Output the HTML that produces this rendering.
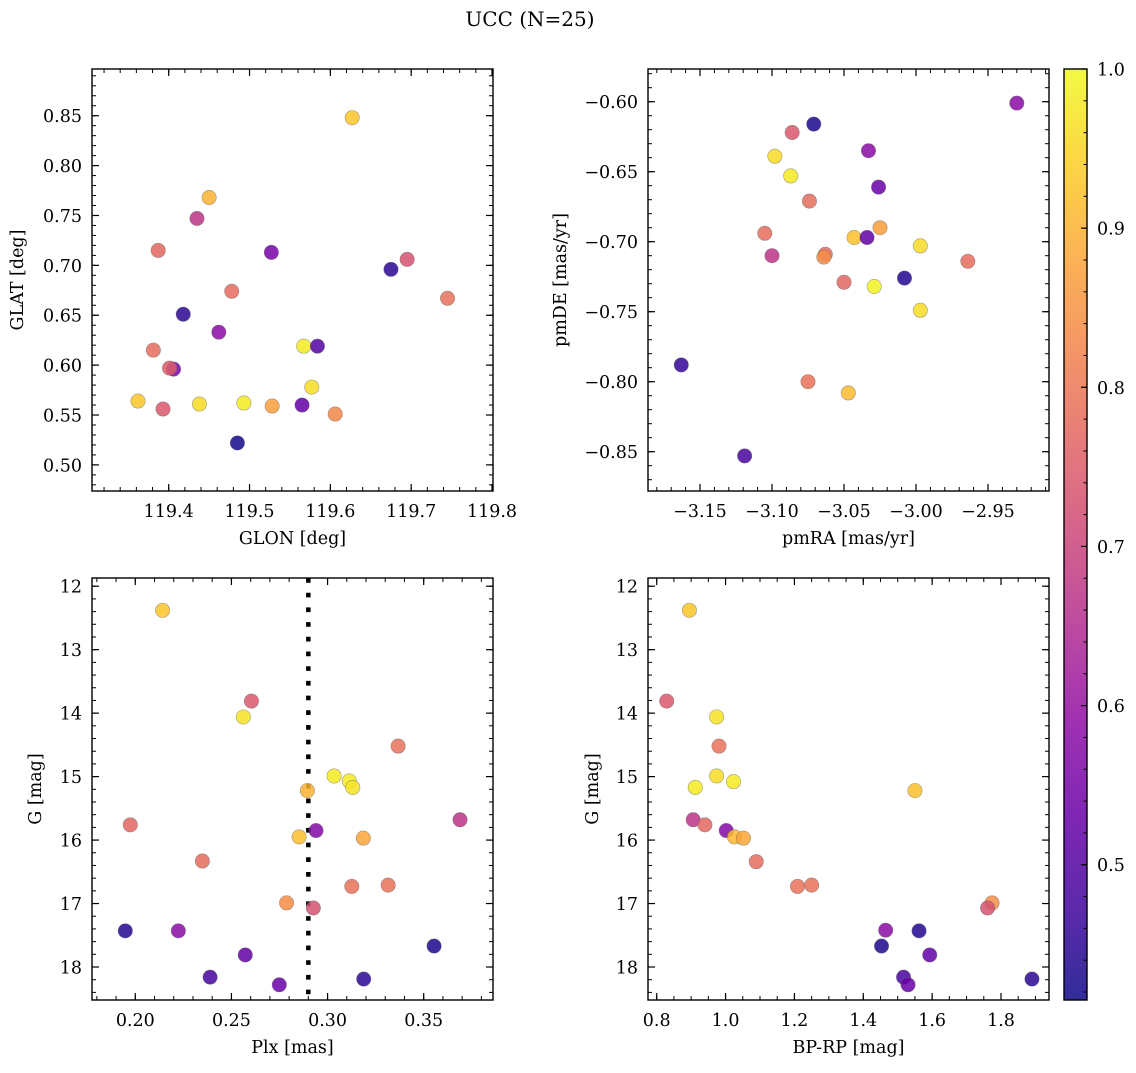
<!DOCTYPE html>
<html><head><meta charset="utf-8"><style>
html,body{margin:0;padding:0;background:#fff;}
svg text{font-family:"DejaVu Serif","Liberation Serif",serif;fill:#000;}
</style></head><body>
<svg id="fig" width="1136" height="1068" viewBox="0 0 1136 1068" xmlns="http://www.w3.org/2000/svg">
<defs>
<linearGradient id="cbgrad" x1="0" y1="1" x2="0" y2="0">
<stop offset="0" stop-color="#0d0887"/><stop offset="0.1" stop-color="#41049d"/><stop offset="0.2" stop-color="#6a00a8"/><stop offset="0.3" stop-color="#8f0da4"/><stop offset="0.4" stop-color="#b12a90"/><stop offset="0.5" stop-color="#cc4778"/><stop offset="0.6" stop-color="#e16462"/><stop offset="0.7" stop-color="#f2844b"/><stop offset="0.8" stop-color="#fca636"/><stop offset="0.9" stop-color="#fcce25"/><stop offset="1" stop-color="#f0f921"/>
</linearGradient>
</defs>
<text x="530" y="26" font-size="20" text-anchor="middle">UCC (N=25)</text>
</svg>
<script>
// ---- data: panel 1 (GLON/GLAT)
const glon = [119.627,119.450,119.435,119.387,119.527,119.675,119.695,119.478,119.745,119.418,119.462,119.567,119.584,119.381,119.406,119.401,119.577,119.362,119.393,119.438,119.493,119.528,119.565,119.606,119.485];
const glat = [0.848,0.768,0.747,0.715,0.713,0.696,0.706,0.674,0.667,0.651,0.633,0.619,0.619,0.615,0.596,0.597,0.578,0.564,0.556,0.561,0.562,0.559,0.560,0.551,0.522];
const prob1 = [0.93,0.90,0.67,0.77,0.55,0.45,0.73,0.78,0.79,0.45,0.58,0.98,0.50,0.78,0.55,0.75,0.96,0.93,0.74,0.96,0.98,0.87,0.52,0.83,0.42];
// ---- data: panel 2 (pmRA/pmDE)
const pmra = [-2.930,-3.071,-3.086,-3.033,-3.098,-3.087,-3.026,-3.074,-3.105,-3.025,-3.043,-3.034,-2.997,-3.100,-3.063,-3.064,-2.964,-3.008,-3.050,-3.029,-2.997,-3.163,-3.075,-3.047,-3.119];
const pmde = [-0.601,-0.616,-0.622,-0.635,-0.639,-0.653,-0.661,-0.671,-0.694,-0.690,-0.697,-0.697,-0.703,-0.710,-0.709,-0.711,-0.714,-0.726,-0.729,-0.732,-0.749,-0.788,-0.800,-0.808,-0.853];
const prob2 = [0.58,0.43,0.74,0.58,0.96,0.98,0.53,0.78,0.78,0.87,0.92,0.52,0.96,0.67,0.78,0.84,0.78,0.44,0.77,0.99,0.96,0.46,0.79,0.91,0.48];
// ---- data: panel 3 (Plx/G)
const plx = [0.2142,0.2604,0.2562,0.3367,0.3034,0.3113,0.3131,0.2895,0.3689,0.1974,0.2940,0.2852,0.3186,0.2349,0.3315,0.3126,0.2787,0.2926,0.1948,0.2224,0.3554,0.2572,0.2389,0.3188,0.2749];
const gmag3 = [12.38,13.81,14.06,14.52,14.99,15.07,15.17,15.22,15.68,15.76,15.85,15.95,15.97,16.33,16.71,16.73,16.99,17.07,17.43,17.43,17.67,17.81,18.16,18.19,18.28];
const prob3 = [0.93,0.74,0.97,0.79,0.98,0.98,0.97,0.90,0.67,0.77,0.57,0.92,0.88,0.78,0.79,0.79,0.84,0.73,0.44,0.58,0.43,0.52,0.48,0.45,0.53];
const plxMedian = [0.29];
// ---- data: panel 4 (BP-RP/G)
const bprp = [0.895,0.829,0.974,0.981,0.974,1.023,0.912,1.550,0.906,0.940,1.002,1.026,1.052,1.089,1.209,1.250,1.774,1.761,1.465,1.562,1.453,1.593,1.517,1.890,1.530];
const gmag4 = [12.38,13.81,14.06,14.52,14.99,15.08,15.17,15.22,15.68,15.76,15.85,15.95,15.97,16.34,16.73,16.71,16.99,17.07,17.42,17.43,17.67,17.81,18.16,18.19,18.28];
const prob4 = [0.93,0.74,0.97,0.79,0.96,0.98,0.98,0.92,0.67,0.77,0.57,0.91,0.88,0.78,0.79,0.79,0.84,0.73,0.58,0.44,0.43,0.52,0.48,0.45,0.53];
// ---- ticks
const ticks1x = [119.4,119.5,119.6,119.7,119.8];
const ticks1y = [0.50,0.55,0.60,0.65,0.70,0.75,0.80,0.85];
const ticks2x = [-3.15,-3.10,-3.05,-3.00,-2.95];
const ticks2y = [-0.85,-0.80,-0.75,-0.70,-0.65,-0.60];
const ticks3x = [0.20,0.25,0.30,0.35];
const ticksG = [12,13,14,15,16,17,18];
const ticks4x = [0.8,1.0,1.2,1.4,1.6,1.8];
const ticksCb = [0.5,0.6,0.7,0.8,0.9,1.0];
const cbRange = [0.415,1.0];

const NS='http://www.w3.org/2000/svg';
const svg=document.getElementById('fig');
function mk(tag,attrs,parent){const e=document.createElementNS(NS,tag);for(const k in attrs)e.setAttribute(k,attrs[k]);(parent||svg).appendChild(e);return e;}
const stops=[[0,[13,8,135]],[0.1,[65,4,157]],[0.2,[106,0,168]],[0.3,[143,13,164]],[0.4,[177,42,144]],[0.5,[204,71,120]],[0.6,[225,100,98]],[0.7,[242,132,75]],[0.8,[252,166,54]],[0.9,[252,206,37]],[1,[240,249,33]]];
function plasma(v){let t=(v-cbRange[0])/(cbRange[1]-cbRange[0]);t=Math.max(0,Math.min(1,t));
 for(let i=0;i<stops.length-1;i++){const a=stops[i],b=stops[i+1];if(t<=b[0]){const f=(t-a[0])/(b[0]-a[0]);const c=a[1].map((x,j)=>Math.round(x+(b[1][j]-x)*f));return 'rgb('+c.join(',')+')';}}return 'rgb(240,249,33)';}
function fmt(v,d){let s=v.toFixed(d);return s.replace('-','\u2212');}

function panel(p){
 const g=mk('g',{});
 
 
 const sx=v=>p.x0+(v-p.xa)*(p.x1-p.x0)/(p.xb-p.xa);
 const sy=v=>p.y0+(v-p.ya)*(p.y1-p.y0)/(p.yb-p.ya);
 const L=p.L,R=p.R,T=p.T,B=p.B;
 for(let k=-200;k<=200;k++){const v=p.xTicks[0]+k*p.xMinor;const px=sx(v);if(px<L+0.5||px>R-0.5)continue;
  const mt=mk('line',{x1:px,y1:B,x2:px,y2:B-4,stroke:'#000','stroke-width':1},g);
  
  const mt2=mk('line',{x1:px,y1:T,x2:px,y2:T+4,stroke:'#000','stroke-width':1},g);
  }
 for(let k=-200;k<=200;k++){const v=p.yTicks[0]+k*p.yMinor;const py=sy(v);if(py<T+0.5||py>B-0.5)continue;
  const mt=mk('line',{x1:L,y1:py,x2:L+4,y2:py,stroke:'#000','stroke-width':1},g);
  
  const mt2=mk('line',{x1:R,y1:py,x2:R-4,y2:py,stroke:'#000','stroke-width':1},g);
  }
 p.xTicks.forEach(v=>{const px=sx(v);
  const t1=mk('line',{x1:px,y1:B,x2:px,y2:B-7,stroke:'#000','stroke-width':1.2},g);
  
  const t2=mk('line',{x1:px,y1:T,x2:px,y2:T+7,stroke:'#000','stroke-width':1.2},g);
  
  const tx=mk('text',{x:px,y:B+26,'font-size':17.5,'text-anchor':'middle'},g);tx.textContent=fmt(v,p.xd);
  });
 p.yTicks.forEach(v=>{const py=sy(v);
  const t1=mk('line',{x1:L,y1:py,x2:L+7,y2:py,stroke:'#000','stroke-width':1.2},g);
  
  const t2=mk('line',{x1:R,y1:py,x2:R-7,y2:py,stroke:'#000','stroke-width':1.2},g);
  
  const tx=mk('text',{x:L-10,y:py+6.5,'font-size':17.5,'text-anchor':'end'},g);tx.textContent=fmt(v,p.yd);
  });
 if(p.vline){p.vline.forEach(v=>{const l=mk('line',{x1:sx(v),y1:T,x2:sx(v),y2:B,stroke:'#000','stroke-width':4.5,'stroke-dasharray':'4.7 10'},g);
  });}
 for(let i=0;i<p.xs.length;i++){
  const c=mk('circle',{cx:sx(p.xs[i]),cy:sy(p.ys[i]),r:7.2,fill:plasma(p.cs[i]),'fill-opacity':0.85,stroke:'#666','stroke-opacity':0.6,'stroke-width':0.6},g);
  
  }
 const fr=mk('rect',{x:L,y:T,width:R-L,height:B-T,fill:'none',stroke:'#000','stroke-width':1.4},g);
 
 const xl=mk('text',{x:(L+R)/2,y:B+53,'font-size':17.5,'text-anchor':'middle'},g);xl.textContent=p.xlabel;
 
 const yl=mk('text',{x:p.ylx,y:(T+B)/2,'font-size':17.5,'text-anchor':'middle',transform:'rotate(-90 '+p.ylx+' '+((T+B)/2)+')'},g);yl.textContent=p.ylabel;
 
}

panel({name:'glon-glat-panel',L:92,R:493,T:69,B:491,xa:119.4,xb:119.8,x0:168.7,x1:492,ya:0.85,yb:0.50,y0:115.7,y1:464.9,
 xTicks:ticks1x,yTicks:ticks1y,xMinor:0.02,yMinor:0.01,xd:1,yd:2,xs:glon,ys:glat,cs:prob1,xlabel:'GLON [deg]',ylabel:'GLAT [deg]',ylx:23});
panel({name:'pm-panel',L:648,R:1049,T:69,B:491,xa:-3.15,xb:-2.95,x0:700,x1:988,ya:-0.60,yb:-0.85,y0:101.7,y1:451.7,
 xTicks:ticks2x,yTicks:ticks2y,xMinor:0.01,yMinor:0.01,xd:2,yd:2,xs:pmra,ys:pmde,cs:prob2,xlabel:'pmRA [mas/yr]',ylabel:'pmDE [mas/yr]',ylx:566});
panel({name:'plx-g-panel',L:92,R:493,T:578,B:1000,xa:0.20,xb:0.35,x0:135.3,x1:423.7,ya:12,yb:18,y0:586.2,y1:967,
 xTicks:ticks3x,yTicks:ticksG,xMinor:0.01,yMinor:0.2,xd:2,yd:0,xs:plx,ys:gmag3,cs:prob3,xlabel:'Plx [mas]',ylabel:'G [mag]',ylx:41,vline:plxMedian});
panel({name:'cmd-panel',L:648,R:1049,T:578,B:1000,xa:0.8,xb:1.8,x0:656.7,x1:1001,ya:12,yb:18,y0:586.2,y1:967,
 xTicks:ticks4x,yTicks:ticksG,xMinor:0.05,yMinor:0.2,xd:1,yd:0,xs:bprp,ys:gmag4,cs:prob4,xlabel:'BP-RP [mag]',ylabel:'G [mag]',ylx:598});

// colorbar
const cbT=69,cbB=1000,cbL=1064,cbR=1087;
const cy=v=>cbB-(v-cbRange[0])/(cbRange[1]-cbRange[0])*(cbB-cbT);
const cbr=mk('rect',{x:cbL,y:cbT,width:cbR-cbL,height:cbB-cbT,fill:'url(#cbgrad)','fill-opacity':0.85});


for(let v=0.42;v<1.0;v+=0.02){const py=cy(v);
 const m=mk('line',{x1:cbR,y1:py,x2:cbR-3.5,y2:py,stroke:'#000','stroke-width':1});
 
 }
ticksCb.forEach(v=>{const py=cy(v);
 const t=mk('line',{x1:cbR,y1:py,x2:cbR-6,y2:py,stroke:'#000','stroke-width':1.2});
 
 
 const tx=mk('text',{x:cbR+10,y:py+6.5,'font-size':17.5});tx.textContent=v.toFixed(1);
 
 });
const cbf=mk('rect',{x:cbL,y:cbT,width:cbR-cbL,height:cbB-cbT,fill:'none',stroke:'#000','stroke-width':1.4});


</script>
</body></html>
